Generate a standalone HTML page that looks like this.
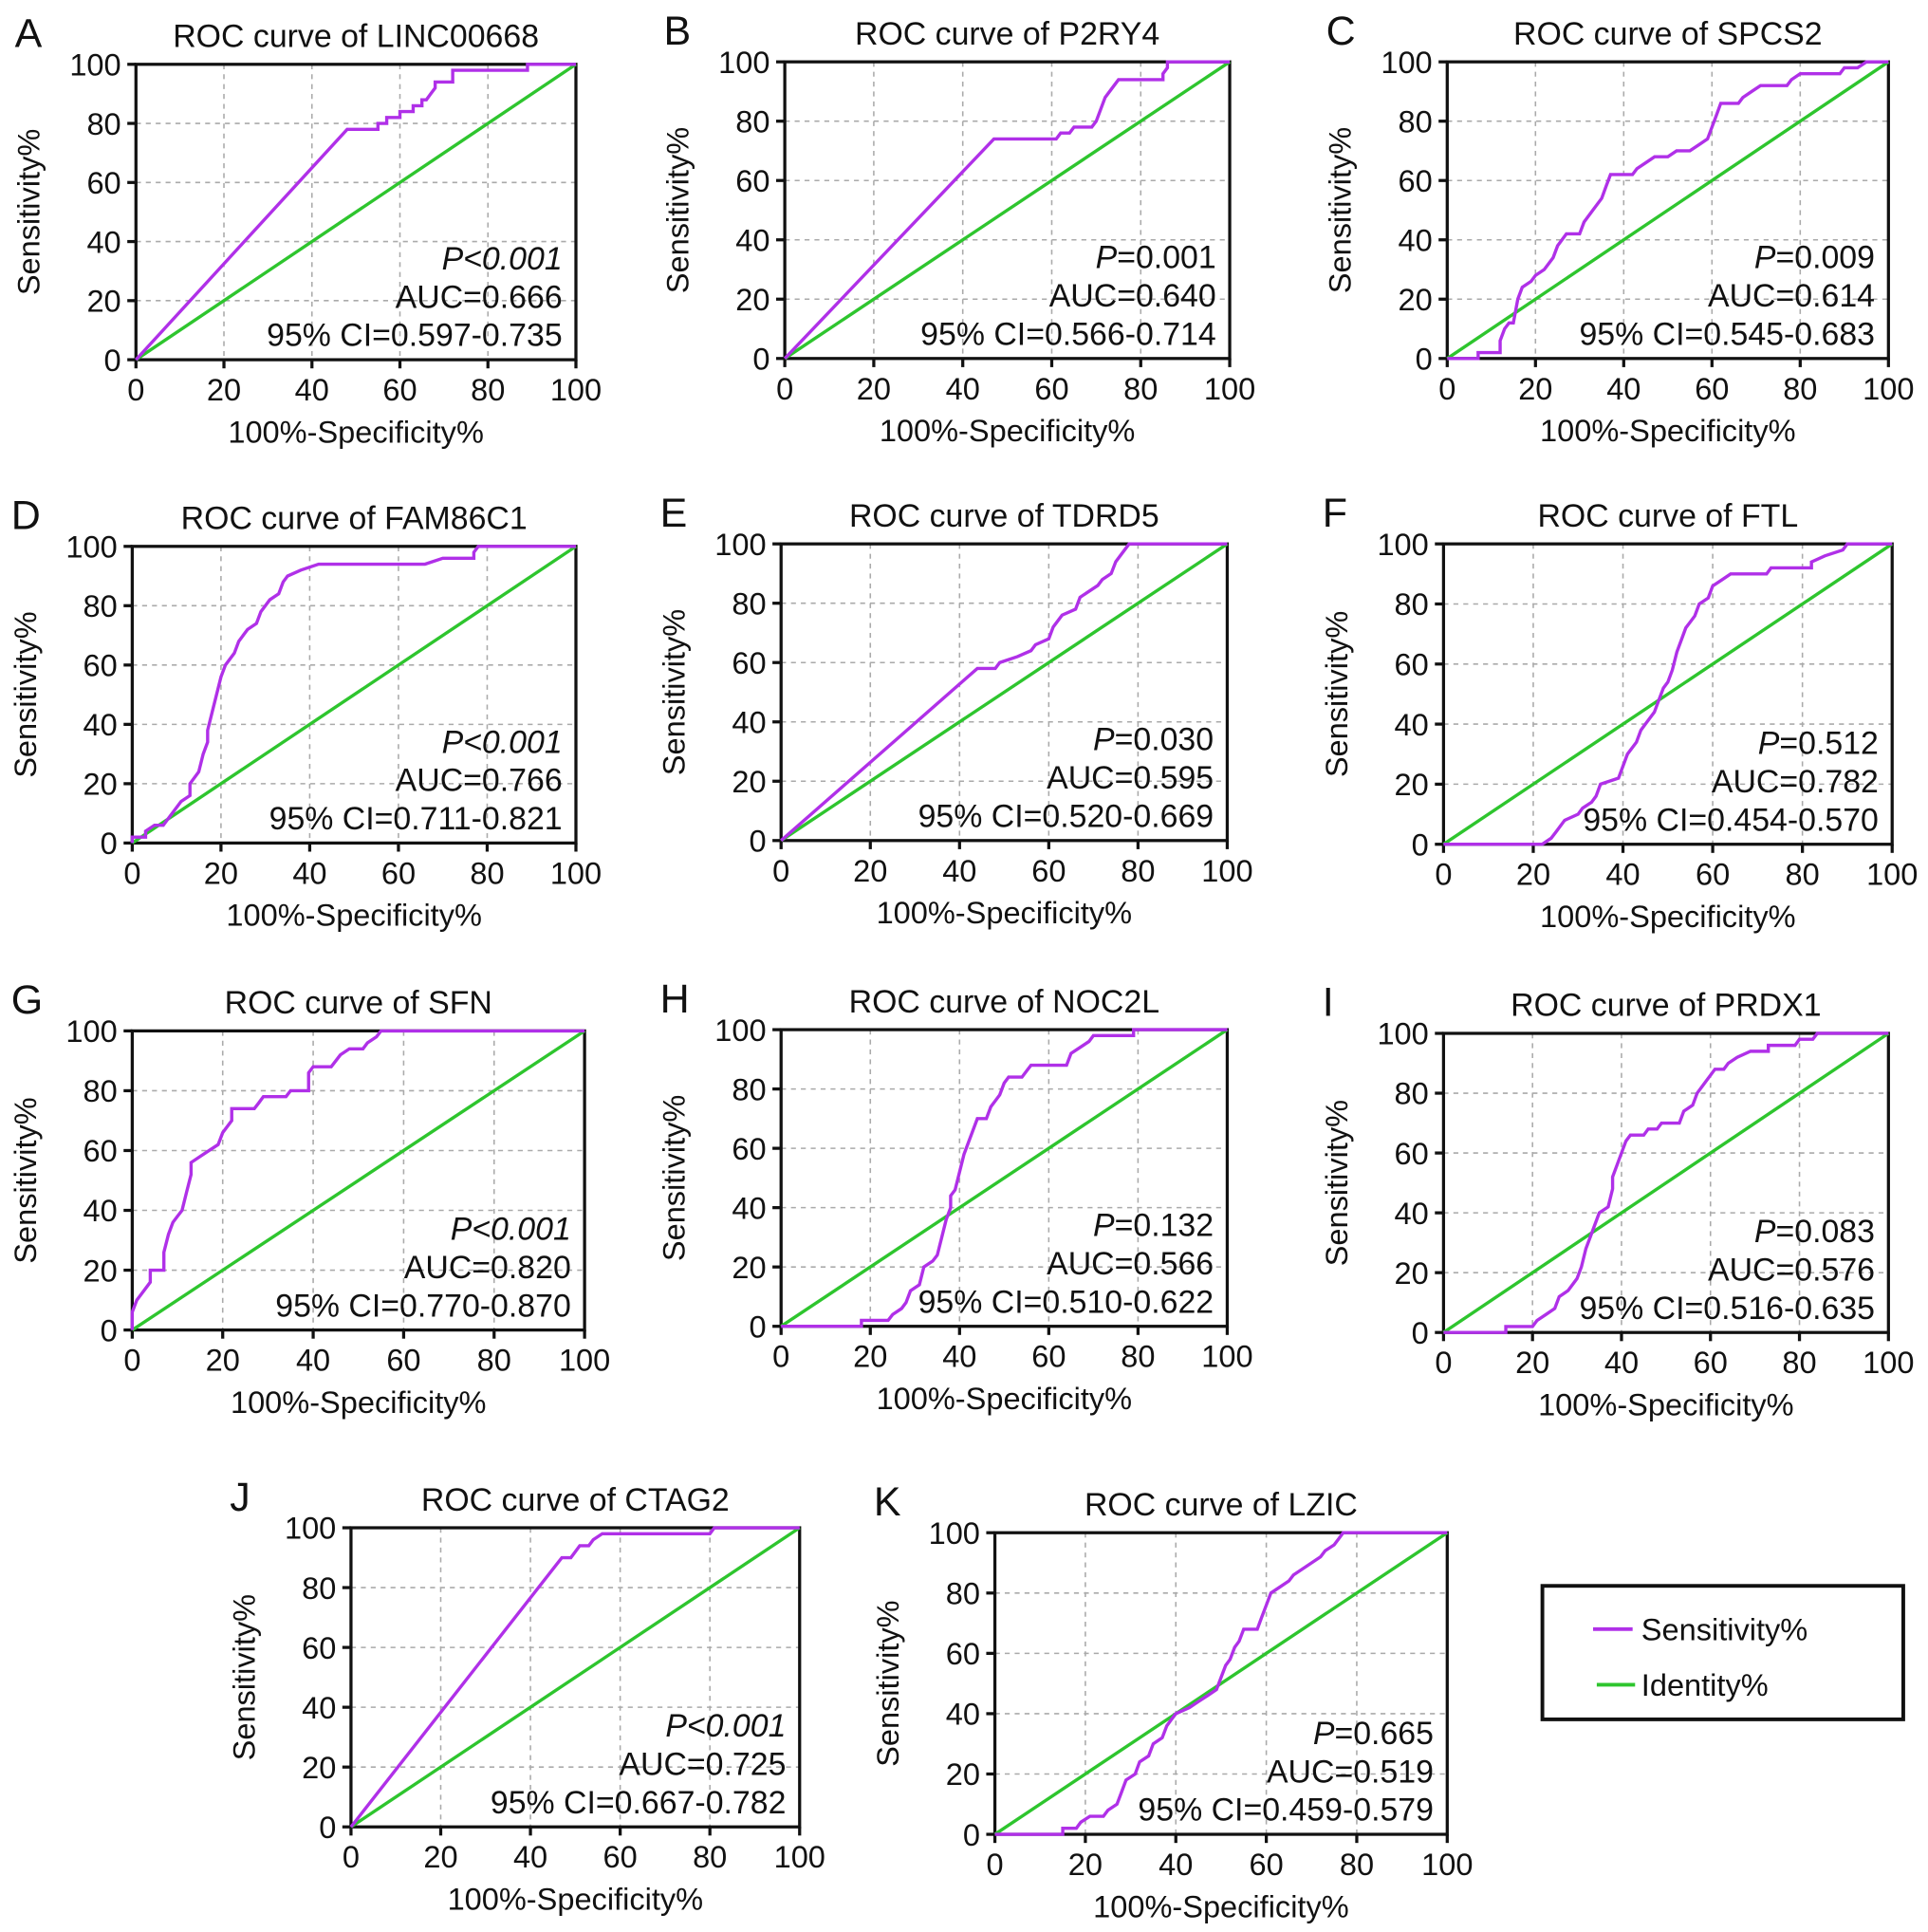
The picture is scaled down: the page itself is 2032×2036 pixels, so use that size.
<!DOCTYPE html>
<html><head><meta charset="utf-8"><style>
html,body{margin:0;padding:0;background:#fff}
svg{display:block}
text{font-family:"Liberation Sans",Arial,sans-serif;fill:#111}
</style></head><body>
<svg id="fig" width="2032" height="2036" viewBox="0 0 1560 1563" xmlns="http://www.w3.org/2000/svg"></svg>
<script>
const panelLetters = ["A","B","C","D","E","F","G","H","I","J","K"];
const panelGenes = ["LINC00668","P2RY4","SPCS2","FAM86C1","TDRD5","FTL","SFN","NOC2L","PRDX1","CTAG2","LZIC"];
const pValues = ["<0.001","=0.001","=0.009","<0.001","=0.030","=0.512","<0.001","=0.132","=0.083","<0.001","=0.665"];
const aucValues = ["0.666","0.640","0.614","0.766","0.595","0.782","0.820","0.566","0.576","0.725","0.519"];
const ciValues = ["0.597-0.735","0.566-0.714","0.545-0.683","0.711-0.821","0.520-0.669","0.454-0.570","0.770-0.870","0.510-0.622","0.516-0.635","0.667-0.782","0.459-0.579"];
const tickLabels = [0,20,40,60,80,100];
const curveA = [[0,0],[48,78],[55,78],[55,80],[57,80],[57,82],[60,82],[60,84],[63,84],[63,86],[65,86],[65,88],[66,88],[67,90],[68,92],[68,94],[72,94],[72,98],[89,98],[89,100],[100,100]];
const curveB = [[0,0],[47,74],[61,74],[62,76],[64,76],[65,78],[69,78],[70,80],[71,84],[72,88],[73,90],[74,92],[75,94],[85,94],[85,96],[86,98],[86,100],[100,100]];
const curveC = [[0,0],[7,0],[7,2],[12,2],[12,6],[13,10],[14,12],[15,12],[16,20],[17,24],[19,26],[20,28],[22,30],[24,34],[25,38],[27,42],[30,42],[31,46],[33,50],[35,54],[36,58],[37,62],[42,62],[43,64],[45,66],[47,68],[50,68],[52,70],[55,70],[57,72],[59,74],[60,78],[61,82],[62,86],[66,86],[67,88],[69,90],[71,92],[77,92],[78,94],[80,96],[89,96],[90,98],[93,98],[95,100],[100,100]];
const curveD = [[0,0],[0,2],[3,2],[3,4],[5,6],[7,6],[8,8],[9,10],[11,14],[13,16],[13,20],[15,24],[16,30],[17,34],[17,38],[18,44],[19,50],[20,56],[21,60],[23,64],[24,68],[26,72],[28,74],[29,78],[31,82],[33,84],[34,88],[35,90],[38,92],[42,94],[66,94],[70,96],[77,96],[77,98],[78,100],[100,100]];
const curveE = [[0,0],[44,58],[48,58],[49,60],[53,62],[56,64],[57,66],[60,68],[61,72],[63,76],[66,78],[67,82],[69,84],[71,86],[72,88],[74,90],[75,94],[76,96],[77,98],[78,100],[100,100]];
const curveF = [[0,0],[22,0],[24,2],[25,4],[27,8],[30,10],[31,12],[33,14],[34,16],[35,20],[39,22],[40,26],[41,30],[43,34],[44,38],[45,40],[47,44],[48,48],[49,52],[50,54],[51,58],[52,64],[53,68],[54,72],[56,76],[57,80],[59,82],[60,86],[62,88],[64,90],[72,90],[73,92],[82,92],[82,94],[85,96],[89,98],[90,100],[100,100]];
const curveG = [[0,0],[0,6],[1,10],[2,12],[3,14],[4,16],[4,20],[7,20],[7,26],[8,32],[9,36],[10,38],[11,40],[12,46],[13,52],[13,56],[15,58],[17,60],[19,62],[20,66],[22,70],[22,74],[27,74],[28,76],[29,78],[34,78],[35,80],[39,80],[39,86],[40,88],[44,88],[45,90],[46,92],[48,94],[51,94],[52,96],[54,98],[55,100],[100,100]];
const curveH = [[0,0],[18,0],[18,2],[24,2],[25,4],[27,6],[28,8],[29,12],[31,14],[32,20],[34,22],[35,24],[36,30],[37,36],[38,40],[38,44],[39,46],[40,52],[41,58],[42,62],[43,66],[44,70],[46,70],[47,74],[48,76],[49,78],[50,82],[51,84],[54,84],[55,86],[56,88],[64,88],[65,92],[67,94],[69,96],[70,98],[79,98],[79,100],[100,100]];
const curveI = [[0,0],[14,0],[14,2],[20,2],[21,4],[23,6],[25,8],[26,12],[28,14],[30,18],[31,22],[32,28],[33,32],[34,36],[35,40],[37,42],[38,48],[38,52],[39,56],[40,60],[41,64],[42,66],[45,66],[46,68],[48,68],[49,70],[53,70],[54,74],[56,76],[57,80],[59,84],[60,86],[61,88],[63,88],[64,90],[66,92],[69,94],[73,94],[73,96],[79,96],[80,98],[83,98],[84,100],[100,100]];
const curveJ = [[0,0],[47,90],[49,90],[50,92],[51,94],[53,94],[54,96],[56,98],[80,98],[81,100],[100,100]];
const curveK = [[0,0],[15,0],[15,2],[18,2],[19,4],[21,6],[24,6],[25,8],[27,10],[28,14],[29,18],[31,20],[32,24],[34,26],[35,30],[37,32],[38,36],[39,38],[40,40],[43,42],[45,44],[47,46],[49,48],[50,52],[51,56],[52,58],[53,62],[54,64],[55,68],[58,68],[59,72],[60,76],[61,80],[63,82],[65,84],[66,86],[68,88],[70,90],[72,92],[73,94],[75,96],[76,98],[77,100],[100,100]];
const curves = [curveA,curveB,curveC,curveD,curveE,curveF,curveG,curveH,curveI,curveJ,curveK];
const boxes = [[110,466,52,291],[635,995,50,290],[1171,1528,50,290],[107,466,442,682],[632,993,440,680],[1168,1531,440,683],[107,473,834,1076],[632,993,833,1073],[1168,1528,836,1078],[284,647,1236,1478],[805,1171,1240,1484]];

const NS="http://www.w3.org/2000/svg";
const svg=document.getElementById('fig');
function mk(tag,attrs,parent,txt){const e=document.createElementNS(NS,tag);for(const k in attrs)e.setAttribute(k,attrs[k]);if(txt!==undefined)e.textContent=txt;(parent||svg).appendChild(e);return e;}

curves.forEach((cv,i)=>{
  const [L,R,T,B]=boxes[i];
  const sx=v=>L+(R-L)*v/100, sy=v=>B-(B-T)*v/100;
  const g=mk('g',{});
  
  
  tickLabels.slice(1,5).forEach(t=>{
    const gl=mk('line',{x1:sx(t),x2:sx(t),y1:T,y2:B,stroke:'#aaa','stroke-width':1.2,'stroke-dasharray':'4,4'},g);
    
    const gh=mk('line',{x1:L,x2:R,y1:sy(t),y2:sy(t),stroke:'#aaa','stroke-width':1.2,'stroke-dasharray':'4,4'},g);
    
  });
  const fr=mk('rect',{x:L,y:T,width:R-L,height:B-T,fill:'none',stroke:'#111','stroke-width':2.5},g);
  
  tickLabels.forEach(t=>{
    mk('line',{x1:sx(t),x2:sx(t),y1:B,y2:B+7,stroke:'#111','stroke-width':2.5},g);
    mk('line',{x1:L-7,x2:L,y1:sy(t),y2:sy(t),stroke:'#111','stroke-width':2.5},g);
    const xt=mk('text',{x:sx(t),y:B+33,'text-anchor':'middle','font-size':25},g,String(t));
    
    const yt=mk('text',{x:L-12,y:sy(t)+9,'text-anchor':'end','font-size':25},g,String(t));
    
  });
  const id=mk('line',{x1:sx(0),y1:sy(0),x2:sx(100),y2:sy(100),stroke:'#2ec52e','stroke-width':2.6},g);
  
  const pts=cv.map(p=>sx(p[0]).toFixed(1)+','+sy(p[1]).toFixed(1)).join(' ');
  const pl=mk('polyline',{points:pts,fill:'none',stroke:'#b030e8','stroke-width':2.6},g);
  
  const xl=mk('text',{x:(L+R)/2,y:B+67,'text-anchor':'middle','font-size':25},g,'100%-Specificity%');
  
  const cy=(T+B)/2;
  const yl=mk('text',{x:L-78,y:cy,'text-anchor':'middle','font-size':25,transform:`rotate(-90 ${L-78} ${cy})`},g,'Sensitivity%');
  
  const ti=mk('text',{x:(L+R)/2,y:T-14,'text-anchor':'middle','font-size':26},g,'ROC curve of '+panelGenes[i]);
  
  const lt=mk('text',{x:L-98,y:T-14,'font-size':33},g,panelLetters[i]);
  
  const pv=pValues[i];
  const pt=mk('text',{x:R-11,y:B-73,'text-anchor':'end','font-size':26},g);
  
  if(pv[0]==='<'){mk('tspan',{'font-style':'italic'},pt,'P'+pv);}
  else{mk('tspan',{'font-style':'italic'},pt,'P');mk('tspan',{},pt,pv);}
  const au=mk('text',{x:R-11,y:B-42,'text-anchor':'end','font-size':26},g,'AUC='+aucValues[i]);
  
  const ci=mk('text',{x:R-11,y:B-11,'text-anchor':'end','font-size':26},g,'95% CI='+ciValues[i]);
  
});
const lg=mk('g',{});


mk('rect',{x:1248,y:1283,width:292,height:108,fill:'#fff',stroke:'#111','stroke-width':3},lg);
mk('line',{x1:1289,x2:1321,y1:1318,y2:1318,stroke:'#b030e8','stroke-width':3},lg);
const le1=mk('text',{x:1328,y:1327,'font-size':25},lg,'Sensitivity%');

mk('line',{x1:1292,x2:1323,y1:1363,y2:1363,stroke:'#2ec52e','stroke-width':3},lg);
const le2=mk('text',{x:1328,y:1372,'font-size':25},lg,'Identity%');

</script>
</body></html>
